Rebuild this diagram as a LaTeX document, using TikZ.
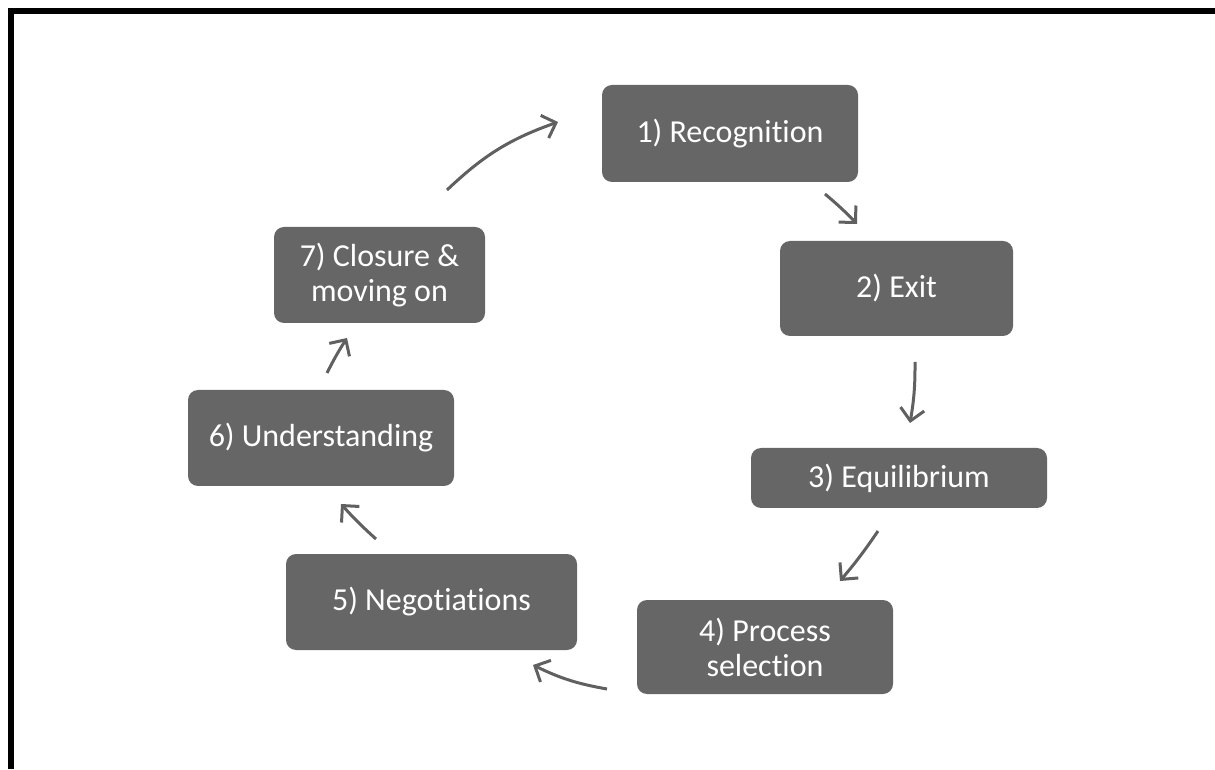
\documentclass[tikz,border=0pt]{standalone}
\usepackage{fontspec}
\setmainfont{Carlito}[Ligatures=NoCommon]
\usepackage{xcolor}
\usetikzlibrary{arrows.meta}
\definecolor{caixacinza}{HTML}{666666}
\definecolor{setacinza}{HTML}{606060}

\begin{document}
\begin{tikzpicture}[x=1pt,y=1pt,
	etapa/.style={fill=caixacinza, rounded corners=10pt, text=white, align=center, inner sep=0pt, font=\fontsize{32}{35}\selectfont},
	seta/.style={draw=setacinza, line width=3pt, -{Straight Barb[length=12pt,width=24pt]}}]
	\useasboundingbox (0,0) rectangle (1215,769);
	
	% moldura
	\draw[line width=5.5pt] (10.8,0) -- (10.8,758) -- (1215,758);
	
	% etapas do ciclo
	\node[etapa, minimum width=256pt, minimum height=97pt] (rec) at (730,635.5) {1) Recognition};
	\node[etapa, minimum width=233pt, minimum height=95pt] (exit) at (896.5,480.5) {2) Exit};
	\node[etapa, minimum width=296pt, minimum height=60pt] (equil) at (899,291) {3) Equilibrium};
	\node[etapa, minimum width=256pt, minimum height=94pt] (proc) at (765,122) {4) Process\\selection};
	\node[etapa, minimum width=291pt, minimum height=96pt] (neg) at (431.5,167) {5) Negotiations};
	\node[etapa, minimum width=266pt, minimum height=96pt] (und) at (321,331) {6) Understanding};
	\node[etapa, minimum width=211pt, minimum height=96pt] (clos) at (379.5,494) {7) Closure \&\\moving on};
	
	% pontas das setas
	\coordinate (s71) at (447,579);  \coordinate (e71) at (558,647);
	\coordinate (s12) at (825,575);  \coordinate (e12) at (857,545);
	\coordinate (s23) at (915,407);  \coordinate (e23) at (910,346);
	\coordinate (s34) at (878,238);  \coordinate (e34) at (840,188);
	\coordinate (s45) at (607,80);   \coordinate (e45) at (533,104);
	\coordinate (s56) at (376,230);  \coordinate (e56) at (341,265);
	\coordinate (s67) at (327,396);  \coordinate (e67) at (347,431);
	
	% setas
	\draw[seta] (s71) to[bend left=12] (e71);
	\draw[seta] (s12) to[bend left=3] (e12);
	\draw[seta] (s23) to[bend left=5] (e23);
	\draw[seta] (s34) to[bend left=3] (e34);
	\draw[seta] (s45) to[bend left=8] (e45);
	\draw[seta] (s56) to[bend left=3] (e56);
	\draw[seta] (s67) to[bend left=3] (e67);
\end{tikzpicture}
\end{document}
